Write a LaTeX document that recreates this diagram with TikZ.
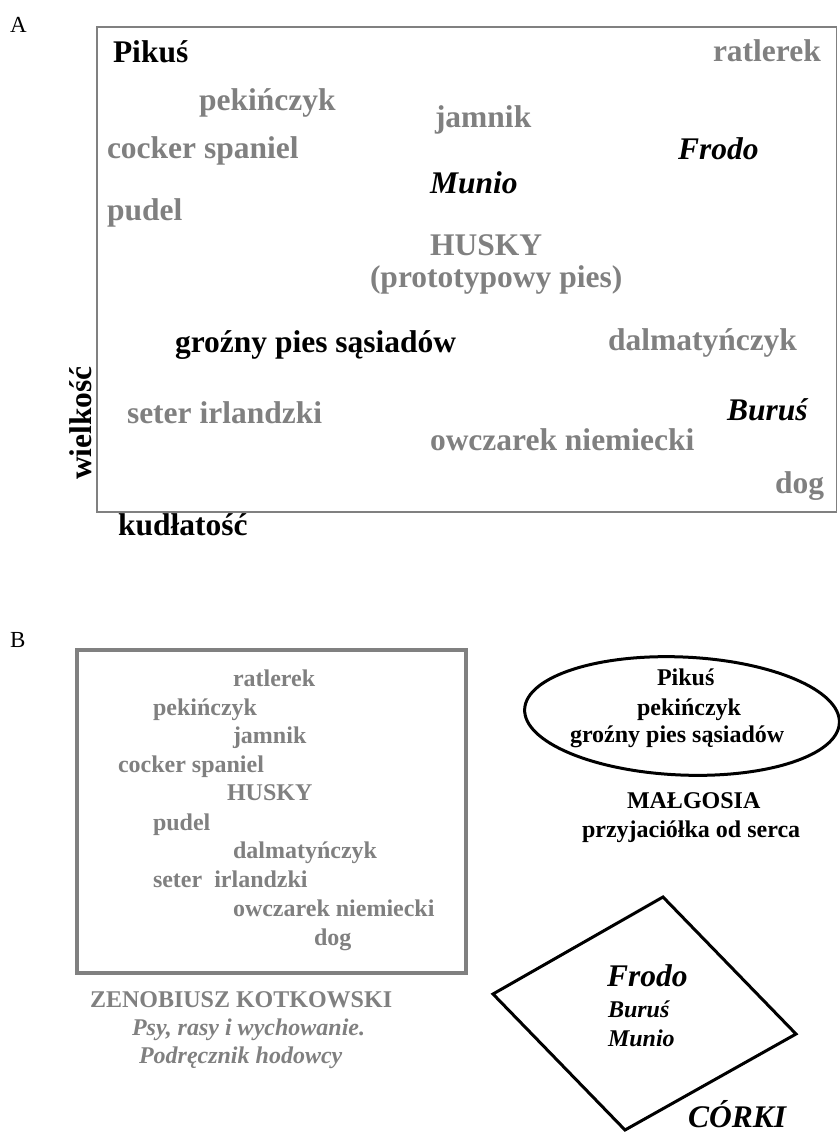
\documentclass[tikz,border=0pt]{standalone}
\usepackage{fontspec}
\setmainfont{Liberation Serif}[
  UprightFont={Liberation Serif},
  BoldFont={Liberation Serif Bold},
  ItalicFont={Liberation Serif Italic},
  BoldItalicFont={Liberation Serif Bold Italic}]
\definecolor{dgray}{RGB}{128,128,128}
\begin{document}
\begin{tikzpicture}[x=1pt,y=1pt,
  every node/.style={inner sep=0pt, outer sep=0pt, anchor=base west},
  big/.style={font=\fontsize{31.5}{36}\selectfont\bfseries},
  bigit/.style={font=\fontsize{31.5}{36}\selectfont\bfseries\itshape},
  small/.style={font=\fontsize{24}{28}\selectfont\bfseries},
  smallit/.style={font=\fontsize{24}{28}\selectfont\bfseries\itshape},
  letter/.style={font=\fontsize{23}{27}\selectfont},
  breed/.style={text=dgray},
  own/.style={text=black}]
\useasboundingbox (0,0) rectangle (839,-1132);
% ---------- Panel A ----------
\node[letter] (lA) at (10,-33) {A};
\draw[dgray, line width=1.5pt] (97,-27) rectangle (836.5,-512);
\node[big,own] (a1) at (113,-63) {Pikuś};
\node[big,breed] (a2) at (713,-62) {ratlerek};
\node[big,breed] (a3) at (199,-110) {pekińczyk};
\node[big,breed] (a4) at (435,-127) {jamnik};
\node[big,breed] (a5) at (107,-158) {cocker spaniel};
\node[bigit,own] (a6) at (678,-159) {Frodo};
\node[bigit,own] (a7) at (430,-193) {Munio};
\node[big,breed] (a8) at (107,-220) {pudel};
\node[big,breed] (a9) at (430,-255) {HUSKY};
\node[big,breed] (a10) at (370,-287) {(prototypowy pies)};
\node[big,own] (a11) at (175,-352) {groźny pies sąsiadów};
\node[big,breed] (a12) at (608,-350) {dalmatyńczyk};
\node[big,breed] (a13) at (127,-423) {seter irlandzki};
\node[bigit,own] (a14) at (727,-420) {Buruś};
\node[big,breed] (a15) at (430,-450) {owczarek niemiecki};
\node[big,breed] (a16) at (775,-493) {dog};
\node[big,own,rotate=90,anchor=base] (ay) at (91,-423) {wielkość};
\node[big,own] (ax) at (118,-535) {kudłatość};
% ---------- Panel B ----------
\node[letter] (lB) at (10,-647) {B};
\draw[dgray, line width=3.5pt] (77,-650) rectangle (466,-973);
\node[small,breed] (b1) at (233,-686) {ratlerek};
\node[small,breed] (b2) at (153,-715) {pekińczyk};
\node[small,breed] (b3) at (233,-743) {jamnik};
\node[small,breed] (b4) at (118,-772) {cocker spaniel};
\node[small,breed] (b5) at (227,-800) {HUSKY};
\node[small,breed] (b6) at (153,-830) {pudel};
\node[small,breed] (b7) at (233,-858) {dalmatyńczyk};
\node[small,breed] (b8) at (153,-887) {seter\ \ irlandzki};
\node[small,breed] (b9) at (233,-916) {owczarek niemiecki};
\node[small,breed] (b10) at (314,-945) {dog};
\node[small,breed] (zk1) at (90,-1007) {ZENOBIUSZ KOTKOWSKI};
\node[smallit,breed] (zk2) at (132,-1035) {Psy, rasy i wychowanie.};
\node[smallit,breed] (zk3) at (139,-1063) {Podręcznik hodowcy};
% ellipse
\draw[black, line width=3pt, rotate around={-2.5:(682,-716)}] (682,-716) ellipse [x radius=157.5, y radius=59];
\node[small,own] (e1) at (657,-685) {Pikuś};
\node[small,own] (e2) at (637,-715) {pekińczyk};
\node[small,own] (e3) at (570,-742) {groźny pies sąsiadów};
\node[small,own] (m1) at (627,-808) {MAŁGOSIA};
\node[small,own] (m2) at (582,-837) {przyjaciółka od serca};
% diamond
\draw[black, line width=3pt, line join=miter] (663,-897) -- (796,-1034) -- (625,-1130) -- (493,-994) -- cycle;
\node[bigit,own] (d1) at (607,-986) {Frodo};
\node[smallit,own] (d2) at (608,-1017) {Buruś};
\node[smallit,own] (d3) at (608,-1046) {Munio};
\node[bigit,own] (d4) at (688,-1127) {CÓRKI};
\end{tikzpicture}
\end{document}
